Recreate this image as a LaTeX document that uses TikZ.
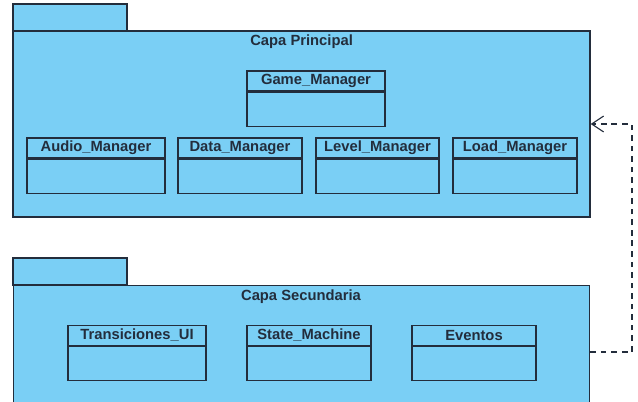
\documentclass[tikz,border=0pt]{standalone}
\usepackage{fontspec}
\setmainfont{Liberation Sans}
\usetikzlibrary{positioning,arrows.meta}
\definecolor{pkgfill}{RGB}{122,207,245}
\definecolor{pkgline}{RGB}{35,45,60}
\tikzstyle{pkgbody} = [rectangle, draw=pkgline, fill=pkgfill, line width=0.9pt]
\tikzstyle{pkgtab} = [rectangle, draw=pkgline, fill=pkgfill, line width=0.9pt, minimum width=2.85cm, minimum height=0.675cm]
\tikzstyle{title} = [font=\fontsize{10.5}{12}\selectfont\bfseries, text=pkgline]
\tikzstyle{head} = [rectangle, draw=pkgline, line width=0.9pt, minimum height=0.5cm, inner sep=0pt, font=\fontsize{10.5}{12}\selectfont\bfseries, text=pkgline]
\tikzstyle{body} = [rectangle, draw=pkgline, line width=0.9pt, minimum height=0.85cm, inner sep=0pt]
\tikzstyle{dep} = [draw=pkgline, line width=0.8pt, dash pattern=on 4pt off 3.5pt, -{Straight Barb[length=3mm,width=4mm]}]

\begin{document}
\begin{tikzpicture}[node distance = 0pt]
	\clip (0,0) rectangle (15.95,-10.05);

	% capa principal
	\node [pkgtab] (maintab) at (1.75,-0.4375) {};
	\node [pkgbody, minimum width=14.425cm, minimum height=4.65cm] (mainbody) at (7.5375,-3.1) {};
	\node [title] (maintitle) at (7.54,-1.05) {Capa Principal};

	\node [head, minimum width=3.45cm] (game) at (7.9,-2.025) {Game\_Manager};
	\node [body, minimum width=3.45cm, below=of game] (gamebody) {};
	\node [head, minimum width=3.45cm] (audio) at (2.4,-3.7) {Audio\_Manager};
	\node [body, minimum width=3.45cm, below=of audio] (audiobody) {};
	\node [head, minimum width=3.1cm] (data) at (6.0,-3.7) {Data\_Manager};
	\node [body, minimum width=3.1cm, below=of data] (databody) {};
	\node [head, minimum width=3.075cm] (level) at (9.4375,-3.7) {Level\_Manager};
	\node [body, minimum width=3.075cm, below=of level] (levelbody) {};
	\node [head, minimum width=3.1cm] (load) at (12.875,-3.7) {Load\_Manager};
	\node [body, minimum width=3.1cm, below=of load] (loadbody) {};

	% capa secundaria
	\node [pkgtab] (sectab) at (1.75,-6.7875) {};
	\node [pkgbody, minimum width=14.4cm, minimum height=4cm, anchor=north west] (secbody) at (0.325,-7.125) {};
	\node [title] (sectitle) at (7.525,-7.425) {Capa Secundaria};

	\node [head, minimum width=3.45cm] (trans) at (3.425,-8.3875) {Transiciones\_UI};
	\node [body, minimum width=3.45cm, below=of trans] (transbody) {};
	\node [head, minimum width=3.1cm] (state) at (7.725,-8.3875) {State\_Machine};
	\node [body, minimum width=3.1cm, below=of state] (statebody) {};
	\node [head, minimum width=3.1cm] (eventos) at (11.85,-8.3875) {Eventos};
	\node [body, minimum width=3.1cm, below=of eventos] (eventosbody) {};

	\coordinate (bend) at (15.8,-8.8);
	\path[dep] (secbody.east |- bend) -- (bend) |- (mainbody.east);
\end{tikzpicture}
\end{document}
